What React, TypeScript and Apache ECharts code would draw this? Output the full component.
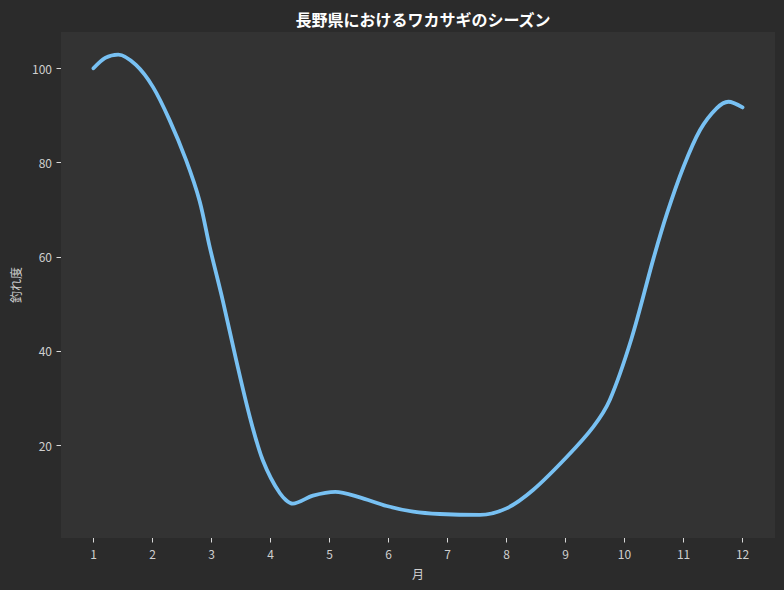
import * as echarts from 'echarts';
import { useEffect, useRef } from 'react';

// 月（横軸の目盛り）
const monthTicks = [1, 2, 3, 4, 5, 6, 7, 8, 9, 10, 11, 12];
const yTicks = [20, 40, 60, 80, 100];

// 平滑化された曲線を画像から読み取った点
const curveMonths = [
  1.0, 1.2, 1.42, 1.72, 2.01, 2.29, 2.57, 2.8, 2.97, 3.19, 3.42, 3.65, 3.87,
  4.16, 4.38, 4.72, 5.1, 5.5, 5.97, 6.42, 6.87, 7.55, 8.0, 8.45, 9.02, 9.47,
  9.75, 10.12, 10.49, 10.72, 11.0, 11.28, 11.56, 11.76, 12.0,
];
const curveValues = [
  100, 102.2, 102.9, 100.7, 96.0, 89.0, 80.5, 71.8, 62.1, 50.8, 38, 26, 16.8,
  9.8, 7.6, 9.3, 10.1, 9.0, 7.1, 5.9, 5.4, 5.2, 6.6, 10.5, 17.5, 23.9, 29.6,
  42.7, 59.6, 69.2, 79.1, 86.9, 91.5, 92.9, 91.7,
];

const font = '"Noto Sans CJK JP", "Noto Sans", sans-serif';

export default function App() {
  const container = useRef<HTMLDivElement | null>(null);

  useEffect(() => {
    if (!container.current) return;
    const chart = echarts.init(container.current, null, { renderer: 'svg' });
    chart.setOption({
      animation: false,
      backgroundColor: '#2b2b2b',
      textStyle: { fontFamily: font },
      title: {
        text: '長野県におけるワカサギのシーズン',
        left: 418,
        top: 6,
        textAlign: 'center',
        textStyle: { color: '#ffffff', fontSize: 16, fontWeight: 'bold', fontFamily: font },
      },
      grid: {
        left: 61,
        right: 9,
        top: 32,
        bottom: 52,
        show: true,
        backgroundColor: '#333333',
        borderWidth: 0,
        outerBoundsMode: 'none',
        containLabel: false,
      },
      xAxis: {
        type: 'value',
        min: 0.45,
        max: 12.55,
        name: '月',
        nameLocation: 'middle',
        nameGap: 29,
        nameTextStyle: { color: '#cfcfcf', fontSize: 12, fontFamily: font },
        axisLine: { show: false },
        splitLine: { show: false },
        axisTick: {
          show: true,
          length: 4.5,
          lineStyle: { color: '#d8d8d8', width: 1 },
          customValues: monthTicks,
        },
        axisLabel: {
          color: '#cfcfcf',
          fontSize: 12,
          margin: 9,
          fontFamily: font,
          customValues: monthTicks,
        },
      },
      yAxis: {
        type: 'value',
        min: 0.31,
        max: 107.7,
        name: '釣れ度',
        nameLocation: 'middle',
        nameGap: 39,
        nameRotate: 90,
        nameTextStyle: { color: '#cfcfcf', fontSize: 12, fontFamily: font },
        axisLine: { show: false },
        splitLine: { show: false },
        axisTick: {
          show: true,
          length: 4.5,
          lineStyle: { color: '#d8d8d8', width: 1 },
          customValues: yTicks,
        },
        axisLabel: {
          color: '#cfcfcf',
          fontSize: 12,
          margin: 9,
          fontFamily: font,
          customValues: yTicks,
        },
      },
      series: [
        {
          type: 'line',
          data: curveMonths.map((m, i) => [m, curveValues[i]]),
          smooth: 0.3,
          showSymbol: false,
          symbol: 'none',
          lineStyle: { color: '#78c1f3', width: 3.8, cap: 'round', join: 'round' },
        },
      ],
    } as echarts.EChartsOption);
    return () => {
      chart.dispose();
    };
  }, []);

  return (
    <div
      ref={container}
      style={{ position: 'fixed', left: 0, top: 0, width: 784, height: 590 }}
    />
  );
}
